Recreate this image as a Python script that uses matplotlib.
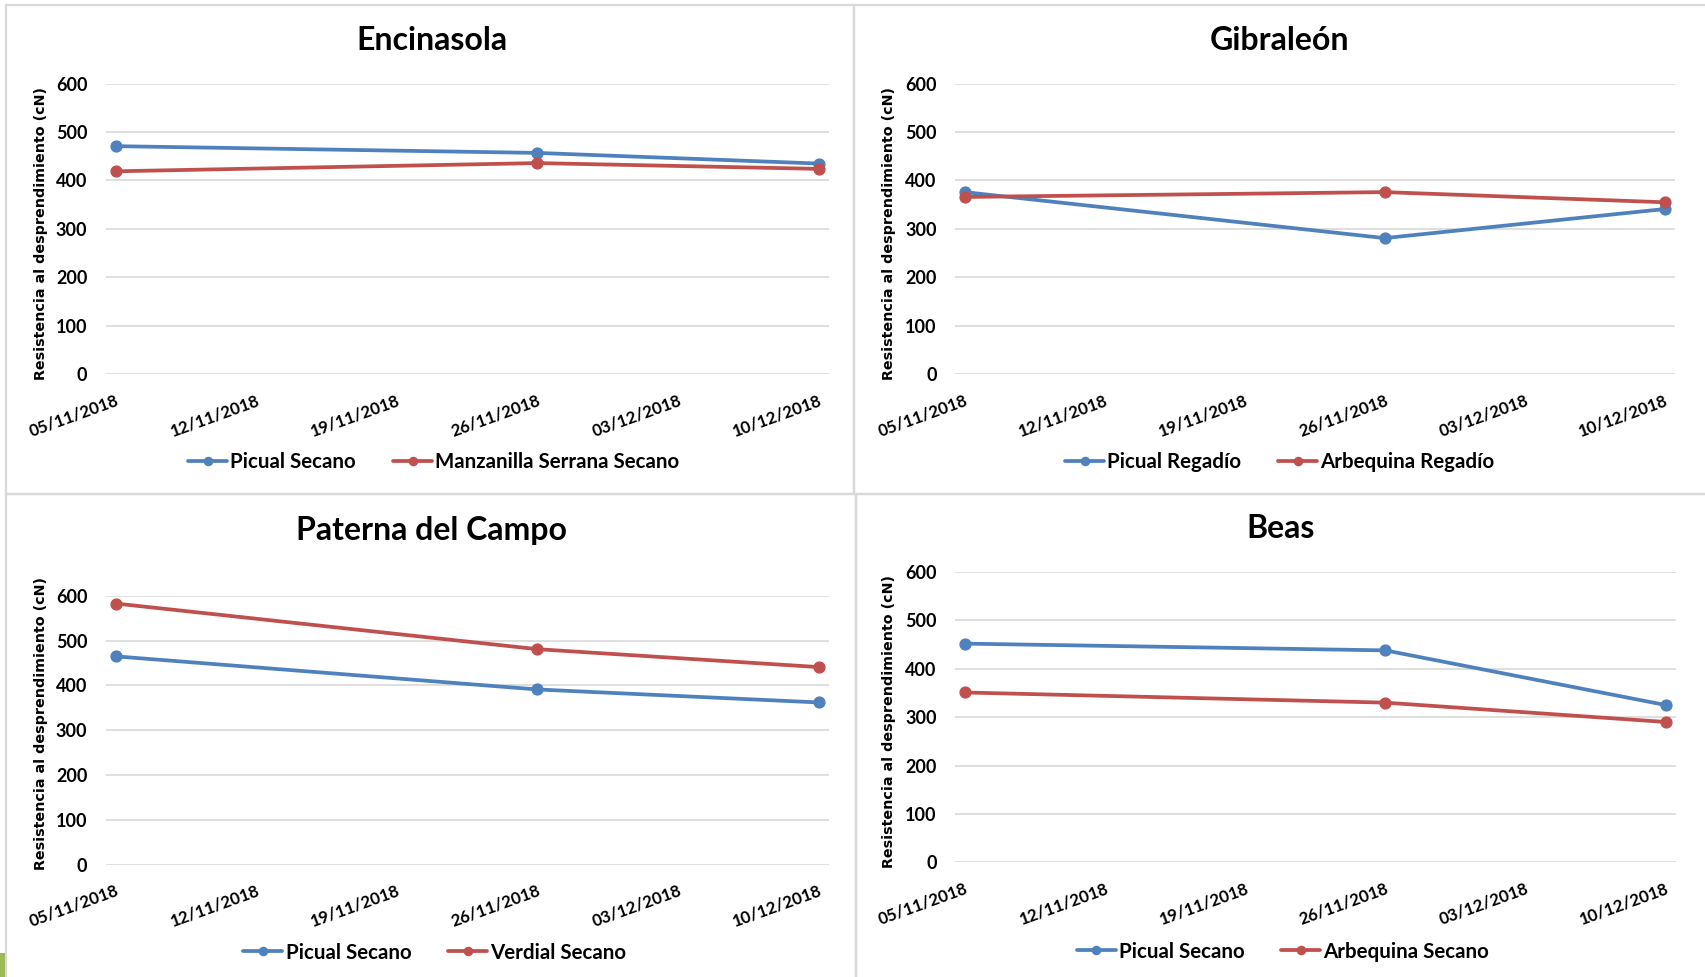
import datetime as dt
import matplotlib
matplotlib.use("Agg")
from matplotlib import pyplot as plt
import matplotlib.dates as mdates
from matplotlib.patches import Rectangle

# data
dates = [dt.datetime(2018, 11, 5), dt.datetime(2018, 11, 26), dt.datetime(2018, 12, 10)]

titles = ["Encinasola", "Gibraleón", "Paterna del Campo", "Beas"]
series_names = [
    ["Picual Secano", "Manzanilla Serrana Secano"],
    ["Picual Regadío", "Arbequina Regadío"],
    ["Picual Secano", "Verdial Secano"],
    ["Picual Secano", "Arbequina Secano"],
]
encinasola_blue = [471, 457, 435]
encinasola_red = [419, 436, 424]
gibraleon_blue = [376, 281, 341]
gibraleon_red = [366, 376, 355]
paterna_blue = [465, 391, 362]
paterna_red = [583, 481, 441]
beas_blue = [452, 438, 325]
beas_red = [351, 330, 290]
values = [
    [encinasola_blue, encinasola_red],
    [gibraleon_blue, gibraleon_red],
    [paterna_blue, paterna_red],
    [beas_blue, beas_red],
]
yticks = [0, 100, 200, 300, 400, 500, 600]
ylabel = "Resistencia al desprendimiento (cN)"

W, H = 1705, 977
colors = ["#4F81BD", "#C0504D"]
grid_col = "#D9D9D9"
font = ["Lato", "DejaVu Sans"]

fig = plt.figure(figsize=(W / 100, H / 100), dpi=100)

# background layer in pixel coords for the panel frames
bg = fig.add_axes([0, 0, 1, 1], zorder=-5)
bg.set_xlim(0, W)
bg.set_ylim(H, 0)
bg.axis("off")
for (x0, y0, x1, y1) in [(6, 5, 854, 494), (854, 5, 1710, 494),
                         (6, 494, 856, 985), (856, 494, 1710, 985)]:
    bg.add_patch(Rectangle((x0, y0), x1 - x0, y1 - y0, fill=False,
                           edgecolor=grid_col, lw=1.6))
bg.add_patch(Rectangle((0, 953), 4.5, 30, color="#9BBB59", lw=0))

# axes boxes: left, top, right, bottom (pixels)
boxes = [(105.5, 83.7, 828.6, 374.1), (954.7, 83.7, 1674.6, 374.1),
         (105.5, 595.9, 828.6, 864.5), (954.7, 572.0, 1675.7, 862.3)]
title_pos = [(431.7, 40.2), (1279.9, 40.2), (431.7, 530.7), (1281, 528.5)]
legend_pos = [(433.9, 462.1), (1280, 462.0), (435, 952.6), (1283, 951.5)]
ylabel_pos = [(41.3, 233.7), (889.5, 233.7), (41.3, 723.7), (889.5, 721.5)]

for k in range(4):
    l, t, r, b = boxes[k]
    ax = fig.add_axes([l / W, 1 - b / H, (r - l) / W, (b - t) / H])
    for s in range(2):
        ax.plot(dates, values[k][s], color=colors[s], lw=2.7, marker="o",
                ms=7.8, label=series_names[k][s], solid_capstyle="round")
    ax.set_ylim(0, 600)
    ax.set_yticks(yticks)
    ax.set_xlim(mdates.date2num(dates[0]) - 0.5, mdates.date2num(dates[-1]) + 0.5)
    ax.set_xticks([mdates.date2num(dates[0]) + 7 * i for i in range(6)])
    ax.xaxis.set_major_formatter(mdates.DateFormatter("%d/%m/%Y"))
    ax.grid(axis="y", color=grid_col, lw=1.2)
    ax.set_axisbelow(True)
    for sp in ax.spines.values():
        sp.set_visible(False)
    ax.tick_params(axis="both", length=0)
    ax.tick_params(axis="y", pad=13)
    ax.tick_params(axis="x", pad=13)
    for lab in ax.get_yticklabels():
        lab.set_fontfamily(font)
        lab.set_fontweight("bold")
        lab.set_fontsize(13)
    for lab in ax.get_xticklabels():
        lab.set_fontfamily(font)
        lab.set_fontweight("bold")
        lab.set_fontsize(12.2)
        lab.set_rotation(20)
        lab.set_ha("right")
        lab.set_va("top")
        lab.set_rotation_mode("anchor")

    ax.set_ylabel(ylabel, fontsize=10.3, fontweight="bold", family="DejaVu Sans")
    lx, ly = ylabel_pos[k]
    ax.yaxis.set_label_coords(lx / W, 1 - ly / H, transform=fig.transFigure)
    ax.yaxis.label.set_va("center")

    tx, ty = title_pos[k]
    fig.text(tx / W, 1 - ty / H, titles[k], ha="center", va="center",
             fontsize=23, fontweight="bold", family=font)

    gx, gy = legend_pos[k]
    ax.legend(loc="center", bbox_to_anchor=(gx / W, 1 - gy / H),
              bbox_transform=fig.transFigure, ncols=2, frameon=False,
              prop={"family": font, "weight": "bold", "size": 14.8},
              handlelength=1.9, handletextpad=0.15, columnspacing=1.8,
              markerscale=0.75)

fig.savefig("out.png", dpi=100)
